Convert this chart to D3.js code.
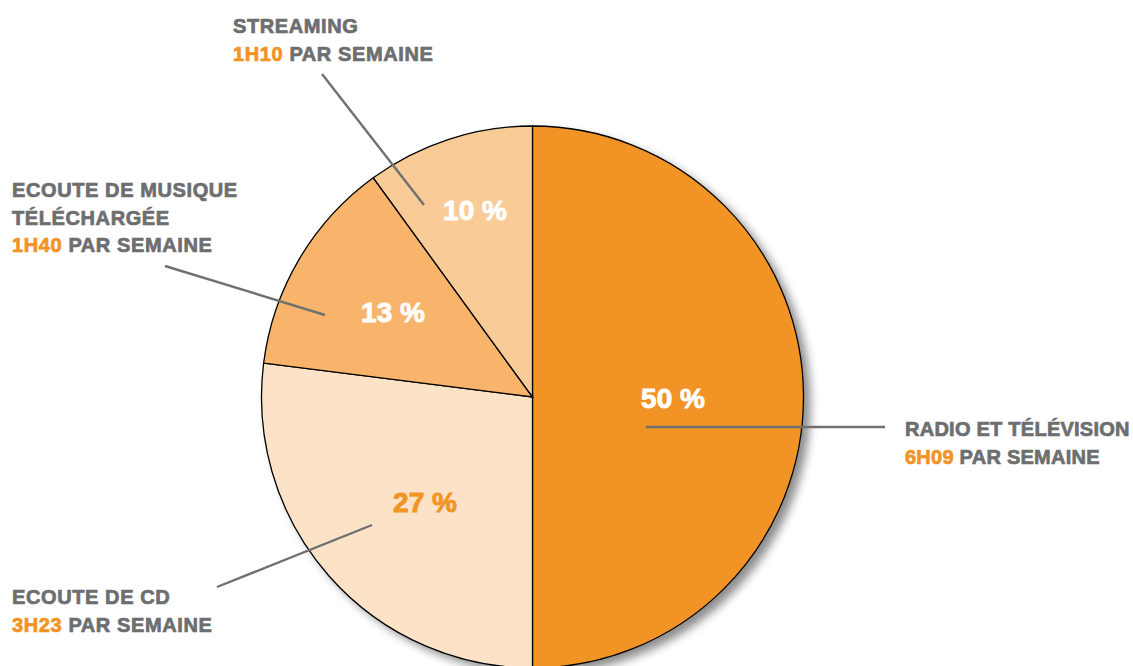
<!DOCTYPE html>
<html>
<head>
<meta charset="utf-8">
<script src="https://cdn.jsdelivr.net/npm/d3@7"></script>
<style>
  body { margin: 0; background: #fff; }
  text { font-family: "Liberation Sans", Arial, sans-serif; font-weight: bold; }
</style>
</head>
<body>
<script>
// data
var categories = ["RADIO ET TÉLÉVISION", "ECOUTE DE CD", "ECOUTE DE MUSIQUE TÉLÉCHARGÉE", "STREAMING"];
var shares = [50, 27, 13, 10];
var durations = ["6H09", "3H23", "1H40", "1H10"];
var sliceColors = ["#F29325", "#FCE3C8", "#F7B46A", "#F9CB96"];
var pctColors = ["#fff", "#F29325", "#fff", "#fff"];

// label layout (name lines, anchor x, first baseline, leader line)
var labelLines = [["RADIO ET TÉLÉVISION"], ["ECOUTE DE CD"], ["ECOUTE DE MUSIQUE", "TÉLÉCHARGÉE"], ["STREAMING"]];
var labelPos = [[905, 436], [12, 604], [12, 197], [233, 33]];
var labelSize = [20, 20, 20, 20];
var labelSpacing = [0.25, 0.6, 0.6, 0.6];
var pctPos = [[673, 408], [425, 512], [393, 322], [475, 220]];
var leaders = [[[646, 427], [885, 427]], [[372, 525], [217, 587]], [[325, 315], [165, 266]], [[424, 205], [322, 74]]];

var width = 1133, height = 666;
var cx = 532.5, cy = 397, radius = 271;
var orange = "#F39325", grey = "#6D6E70";

var svg = d3.select("body").append("svg")
    .attr("width", width)
    .attr("height", height);

var defs = svg.append("defs");
var f = defs.append("filter").attr("id", "shadow")
    .attr("x", "-10%").attr("y", "-10%").attr("width", "130%").attr("height", "130%");
f.append("feDropShadow")
    .attr("dx", 7).attr("dy", 6).attr("stdDeviation", 5)
    .attr("flood-color", "#000").attr("flood-opacity", 0.45);

var pie = d3.pie().sort(null).value(function(d){ return d; });
var arc = d3.arc().innerRadius(0).outerRadius(radius);
var arcs = pie(shares);

var g = svg.append("g").attr("transform", "translate(" + cx + "," + cy + ")");

// shadow disc
g.append("circle")
    .attr("r", radius)
    .attr("fill", "#fff")
    .attr("filter", "url(#shadow)");

g.selectAll("path.slice")
    .data(arcs)
    .enter().append("path")
    .attr("class", "slice")
    .attr("d", arc)
    .attr("fill", function(d, i){ return sliceColors[i]; })
    .attr("stroke", "#000")
    .attr("stroke-width", 1.3);

// percentage labels
svg.selectAll("text.pct")
    .data(shares)
    .enter().append("text")
    .attr("class", "pct")
    .attr("x", function(d, i){ return pctPos[i][0]; })
    .attr("y", function(d, i){ return pctPos[i][1]; })
    .attr("text-anchor", "middle")
    .attr("font-size", 28)
    .attr("fill", function(d, i){ return pctColors[i]; })
    .attr("stroke", function(d, i){ return pctColors[i]; })
    .attr("stroke-width", 0.9)
    .text(function(d){ return d + " %"; });

// leader lines
svg.selectAll("line.leader")
    .data(leaders)
    .enter().append("line")
    .attr("class", "leader")
    .attr("x1", function(d){ return d[0][0]; })
    .attr("y1", function(d){ return d[0][1]; })
    .attr("x2", function(d){ return d[1][0]; })
    .attr("y2", function(d){ return d[1][1]; })
    .attr("stroke", "#707070")
    .attr("stroke-width", 2.4);

// category labels
var lh = 27.5;
categories.forEach(function(c, i){
  var t = svg.append("text")
      .attr("x", labelPos[i][0])
      .attr("y", labelPos[i][1])
      .attr("font-size", labelSize[i])
      .attr("letter-spacing", labelSpacing[i])
      .attr("fill", grey)
      .attr("stroke", grey)
      .attr("stroke-width", 0.7);
  labelLines[i].forEach(function(l, j){
    t.append("tspan").attr("x", labelPos[i][0]).attr("dy", j === 0 ? 0 : lh).text(l);
  });
  var last = t.append("tspan").attr("x", labelPos[i][0]).attr("dy", lh);
  last.append("tspan").attr("fill", orange).attr("stroke", orange).text(durations[i]);
  last.append("tspan").text(" PAR SEMAINE");
});
</script>
</body>
</html>
